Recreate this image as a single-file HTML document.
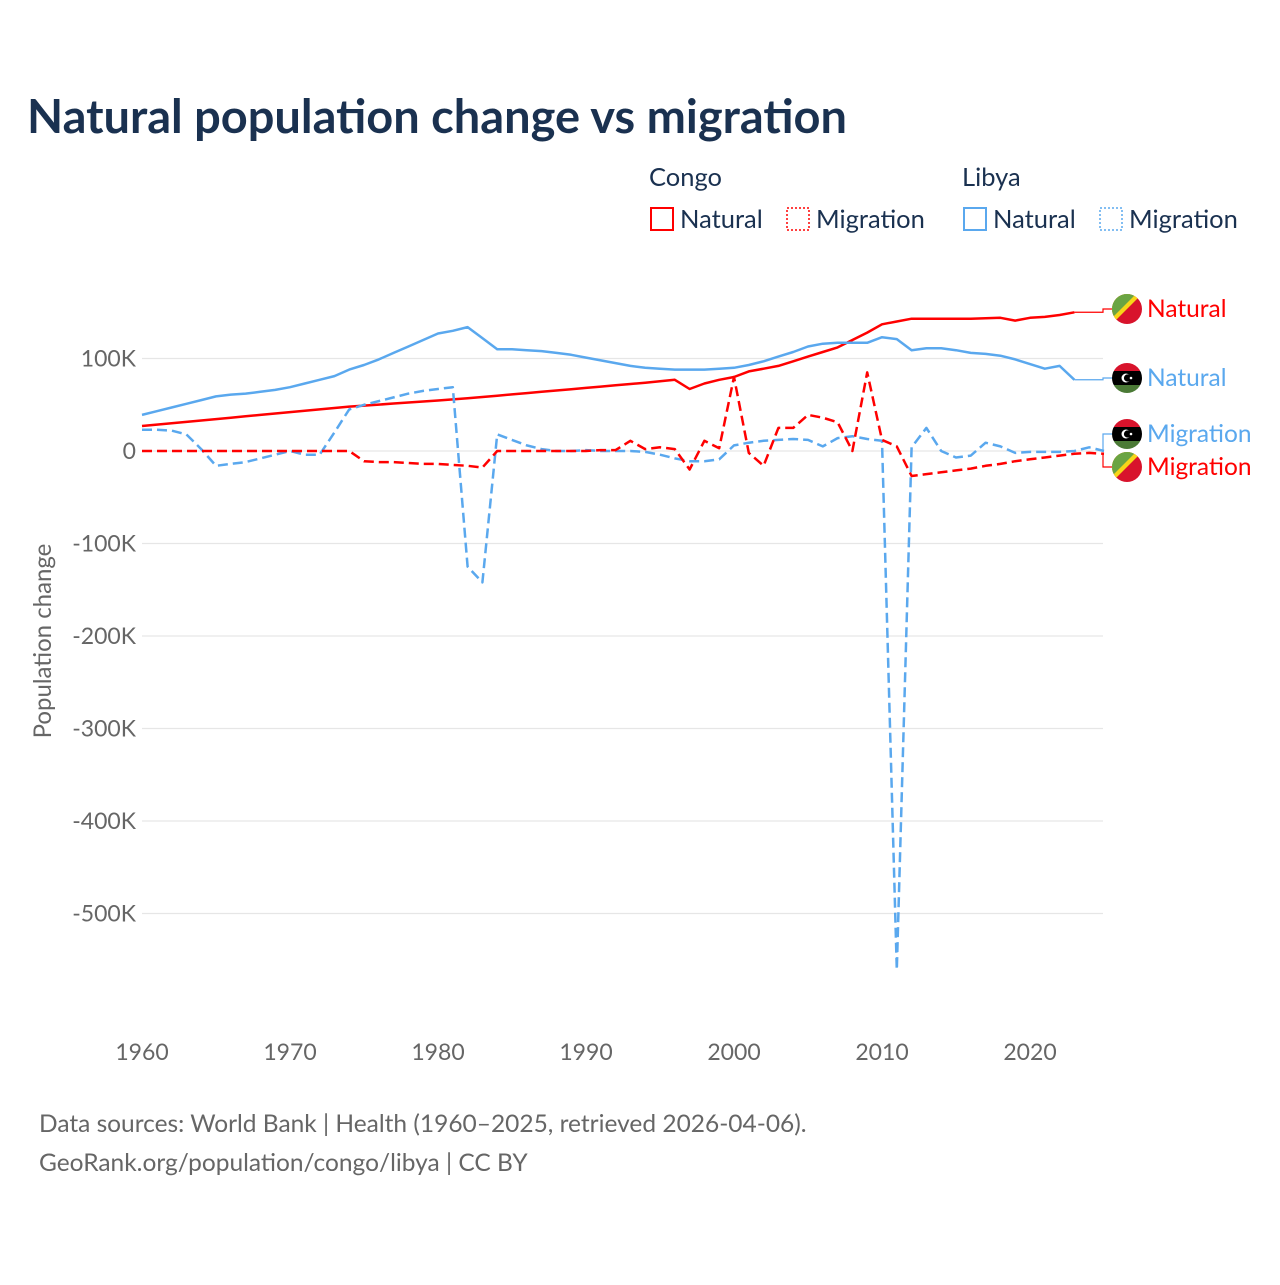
<!DOCTYPE html>
<html><head><meta charset="utf-8"><style>
body{margin:0;background:#fff;font-family:"Liberation Sans",sans-serif;}
svg text{font-family:"Lato","Liberation Sans",sans-serif;}
</style></head><body>
<svg id="chart" width="1280" height="1280" xmlns="http://www.w3.org/2000/svg">
<defs>
<clipPath id="fc"><circle cx="0" cy="0" r="15"/></clipPath>
<g id="congo"><g clip-path="url(#fc)"><rect x="-15" y="-15" width="30" height="30" fill="#d8132c"/><polygon points="-15,-15 15,-15 -15,15" fill="#f7d618"/><polygon points="-15,-15 9,-15 -15,9" fill="#6aa443"/></g></g>
<g id="libya"><g clip-path="url(#fc)"><rect x="-15" y="-15" width="30" height="8" fill="#d8132c"/><rect x="-15" y="-7" width="30" height="14" fill="#000"/><rect x="-15" y="7" width="30" height="8" fill="#4b7a36"/><circle cx="-1" cy="0" r="4.5" fill="#fff"/><circle cx="0.5" cy="0" r="3.6" fill="#000"/><circle cx="4" cy="0" r="1.3" fill="#fff"/></g></g>
</defs>
<text x="27" y="133" font-size="47" font-weight="bold" fill="#1a3150" textLength="820" lengthAdjust="spacingAndGlyphs">Natural population change vs migration</text>
<g font-size="25.5" fill="#1a3150">
<text x="649" y="186">Congo</text><text x="962" y="186">Libya</text>
<g><rect x="651" y="208" width="22" height="22" fill="none" stroke="#ff0000" stroke-width="2"/><text x="680" y="228">Natural</text></g>
<g><rect x="787" y="208" width="22" height="22" fill="none" stroke="#ff0000" stroke-width="1.5" stroke-dasharray="2,2"/><text x="816" y="228">Migration</text></g>
<g><rect x="964" y="208" width="22" height="22" fill="none" stroke="#5aa8ee" stroke-width="2"/><text x="993" y="228">Natural</text></g>
<g><rect x="1100" y="208" width="22" height="22" fill="none" stroke="#5aa8ee" stroke-width="1.5" stroke-dasharray="2,2"/><text x="1129" y="228">Migration</text></g>
</g>
<text transform="translate(51,641) rotate(-90)" text-anchor="middle" font-size="24" fill="#666">Population change</text>
<g id="grid"></g><g id="series"></g><g id="labels"></g>
<text x="39" y="1132" font-size="24.5" fill="#666">Data sources: World Bank | Health (1960–2025, retrieved 2026-04-06).</text>
<text x="39" y="1171" font-size="24.5" fill="#666">GeoRank.org/population/congo/libya | CC BY</text>
</svg>
<script>
const years=[];for(let y=1960;y<=2025;y++)years.push(y);
const yTicks=[100000,0,-100000,-200000,-300000,-400000,-500000];
const yTickLabels=["100K","0","-100K","-200K","-300K","-400K","-500K"];
const xTicks=[1960,1970,1980,1990,2000,2010,2020];
// values in thousands, index = year-1960
const congoNatural=[27,28.5,30,31.5,33,34.5,36,37.5,39,40.5,42,43.5,45,46.5,48,49.1,50.2,51.3,52.4,53.5,54.6,55.8,57,58.4,59.8,61.2,62.6,64,65.4,66.8,68.2,69.6,71,72.4,73.8,75.4,77,67,73,77,80,86,89,92,97,102,107,112,120,128,137,140,143,143,143,143,143,143.5,144,141,144,145,147,150,null,null];
const congoMigration=[0,0,0,0,0,0,0,0,0,0,0,0,0,0,0,-11,-12,-12,-13,-14,-14,-15,-16,-18,0,0,0,0,0,0,0,1,1,11,2,4,2,-20,11,3,80,-2,-16,25,25,39,36,31,0,85,12,5,-27,-25,-23,-21,-19,-16,-14,-11,-9,-7,-5,-3,-2,-3];
const libyaNatural=[39,43,47,51,55,59,61,62,64,66,69,73,77,81,88,93,99,106,113,120,127,130,134,122,110,110,109,108,106,104,101,98,95,92,90,89,88,88,88,89,90,93,97,102,107,113,116,117,117,117,123,121,109,111,111,109,106,105,103,99,94,89,92,77,null,null];
const libyaMigration=[23,23,22,18,2,-16,-14,-12,-8,-4,0,-4,-4,20,45,50,54,58,62,65,67,69,-125,-142,18,12,6,2,0,0,1,0,0,0,-1,-4,-8,-11,-11,-9,6,9,11,12,13,12,5,14,16,13,11,-561,4,25,0,-7,-5,9,5,-2,-1,-1,-1,0,4,0];
const X=y=>142+(y-1960)*14.8;
function Yk(k){return 451-k*0.925;}
const ns="http://www.w3.org/2000/svg";
function el(t,a,p){const e=document.createElementNS(ns,t);for(const k in a)e.setAttribute(k,a[k]);p.appendChild(e);return e;}
const grid=document.getElementById('grid');
yTicks.forEach((v,i)=>{const y=Yk(v/1000);
const l=el('line',{x1:142,x2:1103,y1:y,y2:y,stroke:'#e6e6e6','stroke-width':1.3},grid);


const t=el('text',{x:136,y:y+8,'text-anchor':'end','font-size':23,fill:'#666'},grid);t.textContent=yTickLabels[i];

});
xTicks.forEach(v=>{const t=el('text',{x:X(v),y:1060,'text-anchor':'middle','font-size':23,fill:'#666'},grid);t.textContent=v;

});
const S=document.getElementById('series');
function line(arr,color,dash,name){let d='';let pen=false;arr.forEach((v,i)=>{if(v==null){pen=false;return;}d+=(pen?'L':'M')+X(years[i]).toFixed(1)+','+Yk(v).toFixed(1);pen=true;});
const p=el('path',{d:d,fill:'none',stroke:color,'stroke-width':2.5,'stroke-linejoin':'round'},S);if(dash)p.setAttribute('stroke-dasharray','10,5');

}
line(congoNatural,'#ff0000',false,'congo-natural-line');
line(libyaNatural,'#5aa8ee',false,'libya-natural-line');
line(libyaMigration,'#5aa8ee',true,'libya-migration-line');
line(congoMigration,'#ff0000',true,'congo-migration-line');
const L=document.getElementById('labels');
function lastVal(a){for(let i=a.length-1;i>=0;i--)if(a[i]!=null)return [i,a[i]];}
function label(arr,ly,color,flag,text,name){const [i,v]=lastVal(arr);const x0=X(years[i]),y0=Yk(v);
const c=el('path',{d:`M${x0},${y0}L1103,${y0}L1103,${ly}L1112,${ly}`,fill:'none',stroke:color,'stroke-width':1.2},L);


const u=el('use',{href:'#'+flag,x:1127,y:ly},L);


const t=el('text',{x:1147,y:ly+8,'font-size':24.5,fill:color},L);t.textContent=text;

}
label(congoNatural,309,'#ff0000','congo','Natural','congo-natural');
label(libyaNatural,378,'#5aa8ee','libya','Natural','libya-natural');
label(libyaMigration,434,'#5aa8ee','libya','Migration','libya-migration');
label(congoMigration,467,'#ff0000','congo','Migration','congo-migration');
</script>
</body></html>
